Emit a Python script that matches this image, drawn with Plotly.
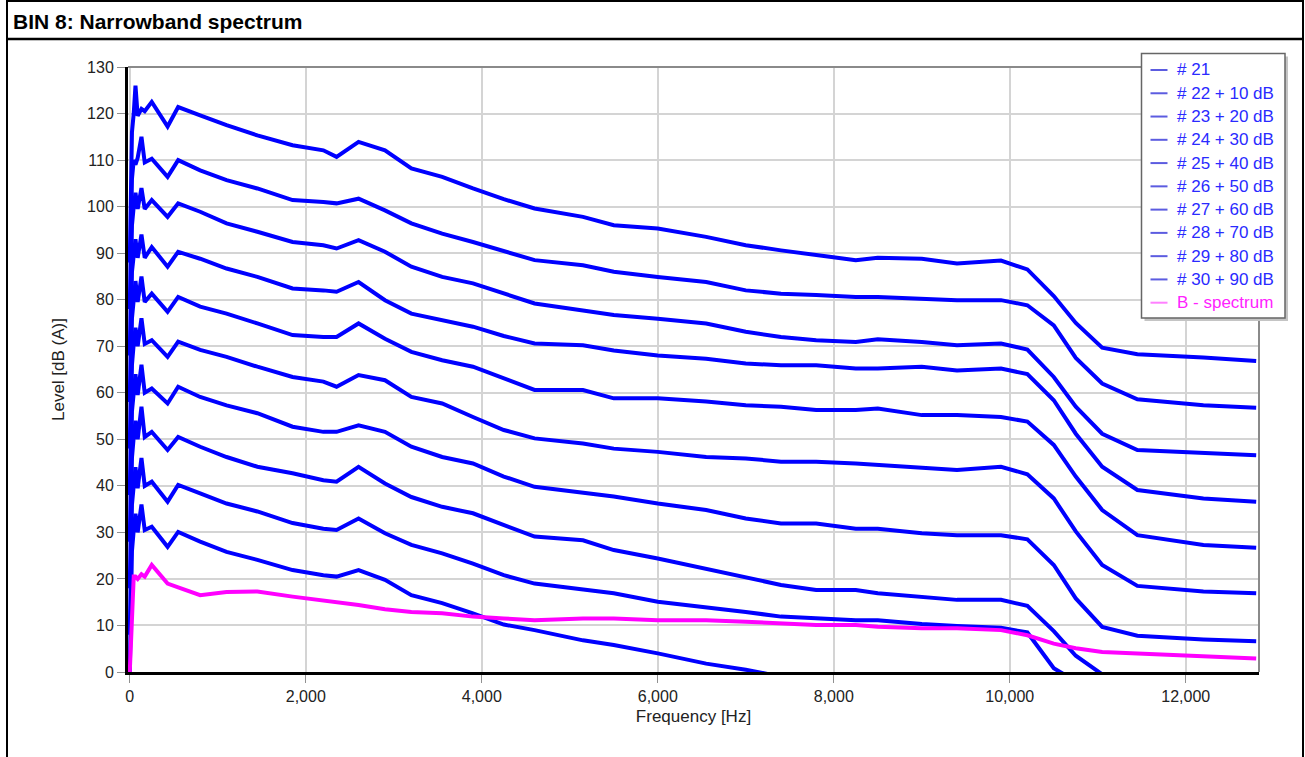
import plotly.graph_objects as go

# ---------------- data ----------------
freq = [0, 25, 45, 65, 90, 133, 170, 250, 430, 550, 800, 1100, 1450, 1850, 2200,
        2350, 2600, 2900, 3200, 3550, 3900, 4250, 4600, 5150, 5500, 6000, 6550,
        7000, 7400, 7800, 8250, 8500, 9000, 9400, 9900, 10200, 10500, 10750,
        11050, 11450, 12200, 12800]

s21 = [0, 26, 30.5, 34, 30, 36, 30.5, 31.2, 26.9, 30.1, 28, 25.8, 24.1, 21.9, 20.8,
       20.5, 21.9, 19.8, 16.5, 14.8, 12.6, 10.2, 9, 6.8, 5.8, 4, 1.8, 0.5, -1,
       None, None, None, None, None, None, None, None, None, None, None, None, None]
s22 = [8, 36, 40, 44, 39.5, 46, 40, 40.9, 36.6, 40.2, 38.4, 36.2, 34.5, 32, 30.8,
       30.5, 33, 29.8, 27.3, 25.5, 23.3, 20.8, 19, 17.6, 16.9, 15.1, 14, 12.9, 11.9,
       11.5, 11.1, 11.1, 10.3, 9.9, 9.5, 8.5, 0.8, -2, None, None, None, None]
s23 = [18, 46, 50.5, 54, 50, 57, 50.5, 51.6, 47.7, 50.5, 48.4, 46.2, 44.1, 42.7, 41.2,
       40.9, 44.1, 40.5, 37.6, 35.5, 34.1, 31.6, 29.1, 28.3, 26.2, 24.4, 22.2, 20.5,
       18.7, 17.6, 17.6, 16.9, 16.2, 15.5, 15.5, 14.2, 8.8, 3.5, -0.5, None, None, None]
s24 = [28, 56, 60, 64, 59.5, 66, 60, 60.9, 57.7, 61.3, 59.1, 57.3, 55.6, 52.7, 51.6,
       51.6, 53, 51.6, 48.4, 46.2, 44.8, 42, 39.8, 38.4, 37.7, 36.2, 34.8, 33, 31.9,
       31.9, 30.8, 30.8, 29.8, 29.4, 29.4, 28.5, 23, 15.8, 9.7, 7.8, 7, 6.6]
s25 = [38, 66, 70.5, 74, 70, 76, 70.5, 71.3, 67.7, 71, 69.2, 67.7, 65.6, 63.4, 62.4,
       61.3, 63.8, 62.7, 59.1, 57.7, 54.8, 52, 50.2, 49.1, 48, 47.3, 46.2, 45.9, 45.2,
       45.2, 44.8, 44.5, 43.7, 43.4, 44.1, 42.5, 37.3, 30.2, 23, 18.5, 17.3, 16.9]
s26 = [48, 76, 80, 84, 79.5, 85, 79.5, 81.3, 77.4, 80.6, 78.5, 77, 74.9, 72.4, 72,
       72, 74.9, 71.6, 68.8, 67, 65.6, 63, 60.6, 60.6, 58.8, 58.8, 58.1, 57.3, 57,
       56.3, 56.3, 56.6, 55.2, 55.2, 54.8, 53.8, 48.8, 42, 34.8, 29.4, 27.3, 26.7]
s27 = [58, 86, 89.5, 93, 89, 94, 89, 91.3, 87.1, 90.3, 88.8, 86.7, 84.9, 82.4, 82,
       81.7, 83.8, 79.9, 77, 75.6, 74.2, 72.2, 70.6, 70.2, 69.1, 68, 67.3, 66.3, 65.9,
       65.9, 65.2, 65.2, 65.6, 64.8, 65.2, 64, 58.4, 51.2, 44.1, 39.1, 37.3, 36.6]
s28 = [68, 96, 100, 103, 99.5, 104, 99.5, 101.4, 97.8, 100.7, 98.9, 96.4, 94.6, 92.4,
       91.7, 91, 92.8, 90.3, 87.1, 84.9, 83.5, 81.3, 79.2, 77.7, 76.7, 75.9, 74.9, 73.1,
       72, 71.3, 70.9, 71.5, 70.9, 70.2, 70.6, 69.3, 63.4, 57, 51.2, 47.7, 47, 46.6]
s29 = [78, 106, 110, 109, 110.5, 115, 109.5, 110.3, 106.4, 110, 107.8, 105.7, 103.9,
       101.4, 101, 100.7, 101.7, 99.2, 96.4, 94.2, 92.4, 90.5, 88.5, 87.4, 86, 84.9,
       83.8, 82, 81.3, 81, 80.6, 80.6, 80.2, 79.9, 79.9, 78.8, 74.5, 67.5, 62, 58.6,
       57.3, 56.8]
s30 = [88, 116, 120, 126, 119.5, 121, 120.5, 122.5, 117.2, 121.4, 119.6, 117.5, 115.3,
       113.2, 112.1, 110.7, 113.9, 112.1, 108.2, 106.4, 103.9, 101.6, 99.6, 97.8, 96.0,
       95.3, 93.5, 91.7, 90.6, 89.6, 88.5, 89.0, 88.8, 87.8, 88.4, 86.5, 80.8, 75.0,
       69.7, 68.3, 67.6, 66.8]
b_spectrum = [0, 12, 20.5, 20.5, 20, 21, 20.5, 23, 19, 18.2, 16.5, 17.2, 17.3, 16.2,
              15.4, 15.1, 14.4, 13.5, 12.9, 12.6, 11.9, 11.5, 11.1, 11.5, 11.5, 11.1,
              11.1, 10.8, 10.4, 10.1, 10.1, 9.7, 9.4, 9.4, 9.0, 7.9, 6.1, 5.1, 4.3, 4.0,
              3.3, 2.9]

series_names = ["# 21", "# 22 + 10 dB", "# 23 + 20 dB", "# 24 + 30 dB", "# 25 + 40 dB",
                "# 26 + 50 dB", "# 27 + 60 dB", "# 28 + 70 dB", "# 29 + 80 dB",
                "# 30 + 90 dB", "B - spectrum"]
series_values = [s21, s22, s23, s24, s25, s26, s27, s28, s29, s30, b_spectrum]

x_ticks = [0, 2000, 4000, 6000, 8000, 10000, 12000]
y_ticks = list(range(0, 131, 10))

# ---------------- styling ----------------
W, H = 1305, 757
PL, PR, PT, PB = 128, 1259, 67, 672      # plot area in pixels
BLUE = "#0000ff"
PINK = "#ff00ff"
FONT = "Liberation Sans, Arial, sans-serif"


def px(xp):
    return (xp - PL) / (PR - PL)


def py(yp):
    return (PB - yp) / (PB - PT)


fig = go.Figure()
for name, vals in zip(series_names, series_values):
    color = PINK if name.startswith("B") else BLUE
    fig.add_trace(go.Scatter(x=freq, y=vals, mode="lines", name=name,
                             line=dict(color=color, width=4),
                             connectgaps=False, showlegend=False))

shapes = []
# outer frame and title separator
shapes.append(dict(type="rect", xref="paper", yref="paper",
                   x0=px(7), x1=px(1303), y0=py(1), y1=py(790),
                   line=dict(color="black", width=2), fillcolor="rgba(0,0,0,0)"))
shapes.append(dict(type="line", xref="paper", yref="paper",
                   x0=px(7), x1=px(1303), y0=py(39), y1=py(39),
                   line=dict(color="black", width=2.5)))
# gray top / right frame of the plot
shapes.append(dict(type="line", xref="paper", yref="paper",
                   x0=0, x1=1, y0=1, y1=1, line=dict(color="#8a8a8a", width=2)))
shapes.append(dict(type="line", xref="paper", yref="paper",
                   x0=1, x1=1, y0=0, y1=1, line=dict(color="#8a8a8a", width=2)))

# manual legend box
LX0, LX1, LY0, LY1 = 1141.5, 1285, 53.5, 318
shapes.append(dict(type="rect", xref="paper", yref="paper",
                   x0=px(LX0 + 3), x1=px(LX1 + 3), y0=py(LY0 + 3), y1=py(LY1 + 3),
                   line=dict(width=0), fillcolor="#c4c4c4"))
shapes.append(dict(type="rect", xref="paper", yref="paper",
                   x0=px(LX0), x1=px(LX1), y0=py(LY0), y1=py(LY1),
                   line=dict(color="#666666", width=1.5), fillcolor="white"))

annotations = []
row0, dy = 70.0, 23.27
for i, name in enumerate(series_names):
    yc = row0 + i * dy
    is_b = name.startswith("B")
    sym = "#ff80ff" if is_b else "#5c5ce0"
    txt = "#ff22ff" if is_b else "#2a2aff"
    shapes.append(dict(type="line", xref="paper", yref="paper",
                       x0=px(1150.5), x1=px(1167.5), y0=py(yc), y1=py(yc),
                       line=dict(color=sym, width=2)))
    annotations.append(dict(text=name, xref="paper", yref="paper",
                            x=px(1175), y=py(yc), xanchor="left", yanchor="middle",
                            showarrow=False, font=dict(family=FONT, size=17, color=txt)))

# title
annotations.append(dict(text="<b>BIN 8: Narrowband spectrum</b>", xref="paper",
                        yref="paper", x=px(11), y=py(21), xanchor="left",
                        yanchor="middle", showarrow=False,
                        font=dict(family=FONT, size=21, color="black")))

fig.update_layout(
    width=W, height=H,
    margin=dict(l=PL, r=W - PR, t=PT, b=H - PB, autoexpand=False),
    paper_bgcolor="white", plot_bgcolor="white",
    font=dict(family=FONT, size=16, color="#222222"),
    shapes=shapes, annotations=annotations, showlegend=False,
)
fig.update_xaxes(range=[-20, 12832], tickvals=x_ticks, tickformat=",d",
                 showline=True, linecolor="black", linewidth=3,
                 ticks="outside", ticklen=8, tickcolor="#909090", tickwidth=1,
                 showgrid=True, gridcolor="#d4d4d4", gridwidth=2, zeroline=False,
                 tickfont=dict(size=16),
                 title=dict(text="Frequency [Hz]", font=dict(size=17), standoff=6))
fig.update_yaxes(range=[0, 130], tickvals=y_ticks,
                 showline=True, linecolor="black", linewidth=3,
                 ticks="outside", ticklen=8, tickcolor="#909090", tickwidth=1,
                 showgrid=True, gridcolor="#d4d4d4", gridwidth=2, zeroline=False,
                 tickfont=dict(size=16),
                 title=dict(text="Level [dB (A)]", font=dict(size=17), standoff=19))

fig.write_html("out.html",
               config={"displayModeBar": False},
               post_script="document.body.style.margin='0px';"
                           "document.body.style.overflow='hidden';")
